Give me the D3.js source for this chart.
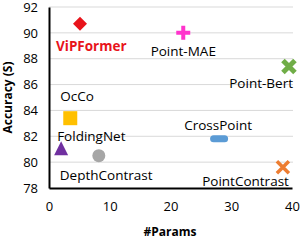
<!DOCTYPE html>
<html>
<head>
<meta charset="utf-8">
<script src="https://cdn.jsdelivr.net/npm/d3@7"></script>
<style>
body { margin:0; background:#fff; }
text { font-family: "Open Sans", "Noto Sans", sans-serif; }
</style>
</head>
<body>
<div id="chart"></div>
<script>
// data
var models = ["ViPFormer", "Point-MAE", "Point-Bert", "OcCo", "FoldingNet", "DepthContrast", "CrossPoint", "PointContrast"];
var params = [5.1, 22.1, 39.5, 3.5, 2.0, 8.2, 28.0, 38.5];
var accuracy = [90.7, 90.0, 87.4, 83.4, 81.0, 80.5, 81.8, 79.6];
var yTicks = [78, 80, 82, 84, 86, 88, 90, 92];
var xTicks = [0, 10, 20, 30, 40];

// marker style + label placement (pixels from marker)
var look = {
    "ViPFormer":     { shape:"diamond", color:"#e8141b", lx:-24, ly:22, anchor:"start", bold:true, tc:"#e8141b" },
    "Point-MAE":     { shape:"plus", color:"#ff33cc", lx:0, ly:18, anchor:"middle" },
    "Point-Bert":    { shape:"bigx", color:"#70ad47", lx:4, ly:17, anchor:"end" },
    "OcCo":          { shape:"square", color:"#ffc000", lx:-10, ly:-22, anchor:"start" },
    "FoldingNet":    { shape:"triangle", color:"#7030a0", lx:-4, ly:-13, anchor:"start" },
    "DepthContrast": { shape:"circle", color:"#a6a6a6", lx:-39, ly:20, anchor:"start" },
    "CrossPoint":    { shape:"dash", color:"#5b9bd5", lx:-1, ly:-14, anchor:"middle" },
    "PointContrast": { shape:"x", color:"#ed7d31", lx:6, ly:14, anchor:"end" }
};

var margin = { left:49, right:11, top:7, bottom:52 };
var w = 303 - margin.left - margin.right;
var h = 240 - margin.top - margin.bottom;

var svg = d3.select("#chart").append("svg")
    .attr("width", 303)
    .attr("height", 240);

var g = svg.append("g")
    .attr("transform", "translate(" + margin.left + "," + margin.top + ")");

var x = d3.scaleLinear().domain([0, 40]).range([0, w]);
var y = d3.scaleLinear().domain([78, 92]).range([h, 0]);

// gridlines
g.selectAll(".grid")
    .data(yTicks.slice(1))
    .enter()
    .append("line")
    .attr("x1", 0)
    .attr("x2", w + 1)
    .attr("y1", function(d) { return y(d); })
    .attr("y2", function(d) { return y(d); })
    .attr("stroke", "#d9d9d9")
    .attr("stroke-width", 1);

var yAxis = g.append("g")
    .call(d3.axisLeft(y).tickValues(yTicks).tickSize(0).tickPadding(11));
yAxis.select(".domain").attr("stroke", "#000").attr("stroke-width", 2);
yAxis.selectAll("text").attr("font-size", 13).attr("fill", "#000")
    .style("font-family", "'Open Sans', sans-serif");

var xAxis = g.append("g")
    .attr("transform", "translate(0," + h + ")")
    .call(d3.axisBottom(x).tickValues(xTicks).tickSize(0).tickPadding(14));
xAxis.select(".domain").attr("stroke", "#000").attr("stroke-width", 2);
xAxis.selectAll("text").attr("font-size", 13).attr("fill", "#000")
    .style("font-family", "'Open Sans', sans-serif");

// axis titles
svg.append("text")
    .attr("x", 170)
    .attr("y", 236)
    .attr("text-anchor", "middle")
    .attr("font-size", 12)
    .attr("font-weight", "bold")
    .text("#Params");

svg.append("text")
    .attr("transform", "translate(12," + (margin.top + h / 2) + ") rotate(-90)")
    .attr("text-anchor", "middle")
    .attr("font-size", 12)
    .attr("font-weight", "bold")
    .text("Accuracy (S)");

var points = models.map(function(m, i) {
    return { name:m, p:params[i], a:accuracy[i] };
});

var marks = g.selectAll(".mark")
    .data(points)
    .enter()
    .append("g")
    .attr("class", "mark")
    .attr("transform", function(d) { return "translate(" + x(d.p) + "," + y(d.a) + ")"; });

marks.each(function(d) {
    var s = d3.select(this), st = look[d.name];
    if (st.shape == "diamond") {
        s.append("path").attr("d", "M0,-7L7,0L0,7L-7,0Z").attr("fill", st.color);
    } else if (st.shape == "plus") {
        s.append("path").attr("d", "M-7,0H7M0,-7V7").attr("stroke", st.color).attr("stroke-width", 4);
    } else if (st.shape == "bigx") {
        s.append("path").attr("d", "M-6,-6L6,6M-6,6L6,-6").attr("stroke", st.color).attr("stroke-width", 5);
    } else if (st.shape == "x") {
        s.append("path").attr("d", "M-6,-6L6,6M-6,6L6,-6").attr("stroke", st.color).attr("stroke-width", 3.5);
    } else if (st.shape == "square") {
        s.append("rect").attr("x", -7).attr("y", -7).attr("width", 14).attr("height", 14).attr("fill", st.color);
    } else if (st.shape == "triangle") {
        s.append("path").attr("d", "M0,-8L7,6H-7Z").attr("fill", st.color);
    } else if (st.shape == "circle") {
        s.append("circle").attr("r", 6.5).attr("fill", st.color);
    } else if (st.shape == "dash") {
        s.append("rect").attr("x", -9).attr("y", -3.5).attr("width", 18).attr("height", 7)
            .attr("rx", 3.5).attr("fill", st.color);
    }
});

marks.append("text")
    .attr("x", function(d) { return look[d.name].lx; })
    .attr("y", function(d) { return look[d.name].ly; })
    .attr("dy", "0.35em")
    .attr("text-anchor", function(d) { return look[d.name].anchor; })
    .attr("font-size", 13.5)
    .attr("font-weight", function(d) { return look[d.name].bold ? "bold" : "normal"; })
    .attr("fill", function(d) { return look[d.name].tc || "#000"; })
    .text(function(d) { return d.name; });
</script>
</body>
</html>
